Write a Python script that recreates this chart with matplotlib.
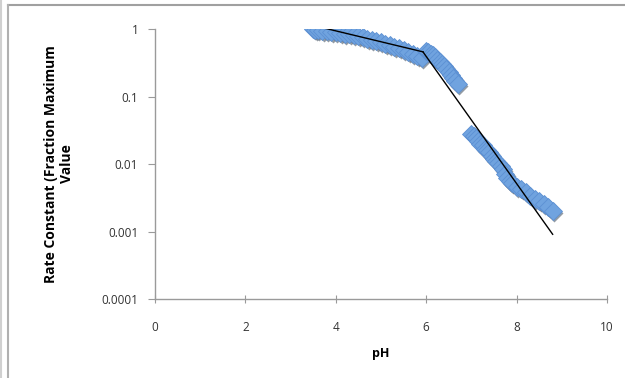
import numpy as np
import matplotlib.pyplot as plt
from matplotlib.lines import Line2D
import matplotlib.transforms as mtransforms

plt.rcParams['font.family'] = ['Open Sans', 'DejaVu Sans']

# measured rate constants (fraction of maximum) vs pH
ph_low = [3.5, 3.55, 3.6, 3.7, 3.8, 3.9, 4.0, 4.1, 4.2, 4.3, 4.4, 4.5, 4.6, 4.7,
          4.8, 4.9, 5.0, 5.1, 5.2, 5.3, 5.4, 5.5, 5.6, 5.7, 5.8, 5.9]
k_low = [1.0, 0.98, 0.97, 0.95, 0.93, 0.92, 0.9, 0.88, 0.86, 0.84, 0.81, 0.79,
         0.76, 0.72, 0.7, 0.67, 0.64, 0.61, 0.58, 0.55, 0.52, 0.49, 0.46, 0.43,
         0.4, 0.37]

ph_mid = [6.0, 6.05, 6.1, 6.15, 6.2, 6.25, 6.3, 6.35, 6.4, 6.45, 6.5, 6.55, 6.6,
          6.65, 6.7]
k_mid = [0.48, 0.46, 0.43, 0.41, 0.38, 0.35, 0.33, 0.3, 0.28, 0.26, 0.23, 0.21,
         0.19, 0.17, 0.155]

ph_high = [7.0, 7.05, 7.1, 7.15, 7.2, 7.25, 7.3, 7.35, 7.4, 7.45, 7.5, 7.55, 7.6,
           7.65, 7.7, 7.75, 7.8, 7.85, 7.9, 8.0, 8.1, 8.2, 8.3, 8.4, 8.5, 8.6,
           8.7, 8.8]
k_high = [0.028, 0.026, 0.024, 0.022, 0.02, 0.019, 0.017, 0.016, 0.015, 0.013,
          0.012, 0.011, 0.0105, 0.0095, 0.0085, 0.0072, 0.0062, 0.0056, 0.0052,
          0.0046, 0.0042, 0.0038, 0.0034, 0.003, 0.0028, 0.0026, 0.0023, 0.002]

# trend lines
fit1_ph = [3.76, 5.93]
fit1_k = [1.03, 0.46]
fit2_ph = [5.93, 8.8]
fit2_k = [0.46, 0.00091]

xticks = [0, 2, 4, 6, 8, 10]
yticks = [0.0001, 0.001, 0.01, 0.1, 1]
ytick_labels = ['0.0001', '0.001', '0.01', '0.1', '1']

fig = plt.figure(figsize=(6.25, 3.78), dpi=100)
ax = fig.add_axes([0.248, 0.209, 0.723, 0.714])

ph_all = ph_low + ph_mid + ph_high
k_all = k_low + k_mid + k_high

shadow = mtransforms.offset_copy(ax.transData, fig=fig, x=1.5, y=-2, units='dots')
ax.plot(ph_all, k_all, ls='none', marker='D', ms=9, color='#4a5868', alpha=0.6,
        mec='none', transform=shadow)
ax.plot(ph_all, k_all, ls='none', marker='D', ms=9, mfc='#70a3df', mec='#5c90d3',
        mew=0.6)

ax.plot(fit1_ph, fit1_k, color='black', lw=1)
ax.plot(fit2_ph, fit2_k, color='black', lw=1)

ax.set_yscale('log')
ax.set_xlim(0, 10)
ax.set_ylim(0.0001, 1)
ax.set_xticks(xticks)
ax.set_yticks(yticks)
ax.set_yticklabels(ytick_labels)
ax.minorticks_off()

for s in ['top', 'right']:
    ax.spines[s].set_visible(False)
for s in ['left', 'bottom']:
    ax.spines[s].set_color('#9a9a9a')
    ax.spines[s].set_linewidth(1)
ax.tick_params(axis='y', direction='out', length=5, color='#9a9a9a',
               labelsize=8.5, labelcolor='#333333', pad=7)
ax.tick_params(axis='x', direction='inout', length=6, color='#9a9a9a',
               labelsize=8.5, labelcolor='#333333', pad=13)

ax.set_xlabel('pH', fontsize=9, fontweight='bold', labelpad=9)
ax.set_ylabel('Rate Constant (Fraction Maximum\nValue', fontsize=10,
              fontweight='bold', labelpad=20, linespacing=1.15)

# screenshot frame
fig.add_artist(Line2D([8 / 625, 1], [1 - 5 / 378, 1 - 5 / 378],
                      transform=fig.transFigure, color='#a0a0a0', lw=1.5))
fig.add_artist(Line2D([8 / 625, 8 / 625], [0, 1 - 5 / 378],
                      transform=fig.transFigure, color='#b0b0b0', lw=1.5))
fig.add_artist(Line2D([1 / 625, 1 / 625], [0, 1],
                      transform=fig.transFigure, color='#d0d0d0', lw=1.5))

fig.savefig('out.png', dpi=100)
